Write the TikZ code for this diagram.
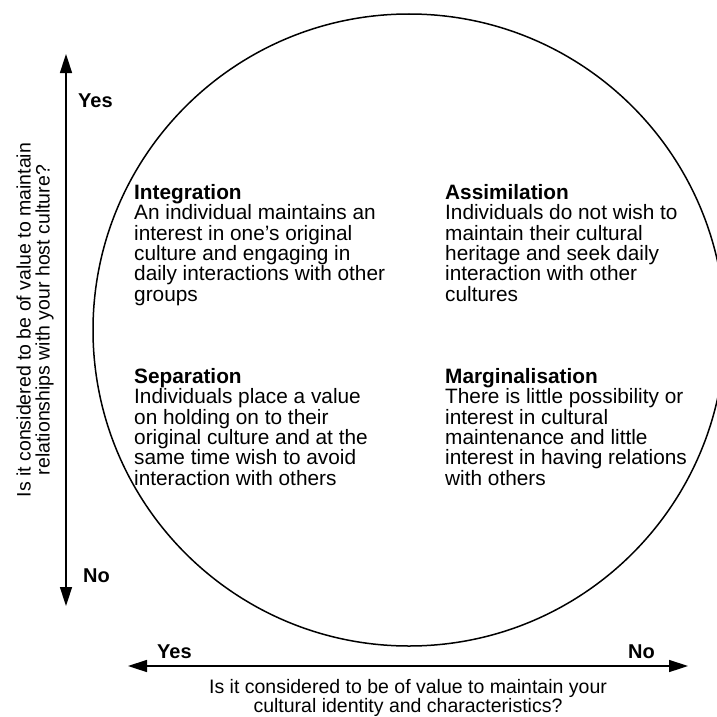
\documentclass[tikz,border=0pt]{standalone}
\usepackage{fontspec}
\setmainfont{Liberation Sans}
\usetikzlibrary{arrows.meta}
\begin{document}
\begin{tikzpicture}[x=1pt,y=-1pt,
  body/.style={inner sep=0pt, align=left, anchor=north west,
    font=\fontsize{20.8}{20.4}\selectfont},
  pole/.style={inner sep=0pt, anchor=base west,
    font=\bfseries\fontsize{20}{20}\selectfont},
  question/.style={inner sep=0pt, align=center,
    font=\fontsize{19.5}{19}\selectfont},
  axis/.style={line width=1.5pt, {Triangle[length=19pt,width=12pt]}-{Triangle[length=19pt,width=12pt]}}]
\useasboundingbox (0,0) rectangle (717,717);

% the big circle, cut off at the right border
\begin{scope}
  \clip (0,0) rectangle (717,717);
  \draw[line width=1.5pt] (409,330) circle[radius=316pt];
\end{scope}

% vertical axis
\coordinate (vtop) at (66,54);
\coordinate (vbot) at (66,606);
\draw[axis] (vbot) -- (vtop);
\node[pole] (vyes) at (78,107) {Yes};
\node[pole] (vno) at (83,582) {No};
\node[question, rotate=90] (vq) at (35,320)
  {Is it considered to be of value to maintain\\relationships with your host culture?};

% horizontal axis
\coordinate (hleft) at (128,666);
\coordinate (hright) at (688,666);
\draw[axis] (hleft) -- (hright);
\node[pole] (hyes) at (157,658) {Yes};
\node[pole] (hno) at (628,658) {No};
\node[question] (hq) at (408,698)
  {Is it considered to be of value to maintain your\\cultural identity and characteristics?};

% the four strategies
\node[body] (integ) at (134,184)
  {\textbf{Integration}\\An individual maintains an\\interest in one's original\\culture and engaging in\\daily interactions with other\\groups};
\node[body] (assim) at (445,184)
  {\textbf{Assimilation}\\Individuals do not wish to\\maintain their cultural\\heritage and seek daily\\interaction with other\\cultures};
\node[body] (separ) at (134,368)
  {\textbf{Separation}\\Individuals place a value\\on holding on to their\\original culture and at the\\same time wish to avoid\\interaction with others};
\node[body] (margi) at (445,368)
  {\textbf{Marginalisation}\\There is little possibility or\\interest in cultural\\maintenance and little\\interest in having relations\\with others};
\end{tikzpicture}
\end{document}
